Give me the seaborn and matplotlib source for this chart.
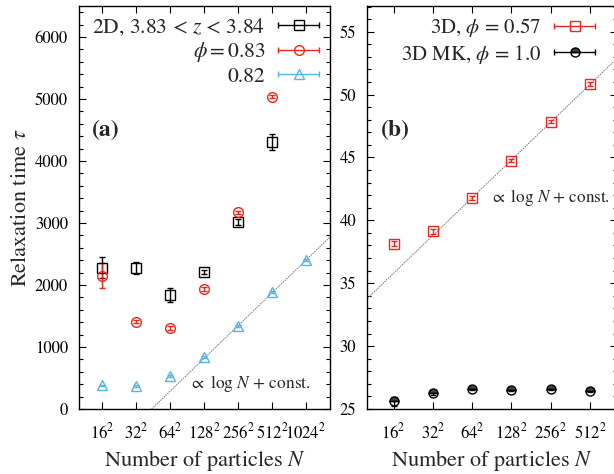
import numpy as np
import pandas as pd
import seaborn as sns
import matplotlib
matplotlib.use("Agg")
import matplotlib.pyplot as plt
from matplotlib.lines import Line2D
from matplotlib.legend_handler import HandlerBase
from matplotlib.ticker import MultipleLocator

# ---------------- data ----------------
# panel (a): 2D systems, linear size L (N = L^2)
L_a = [16, 32, 64, 128, 256, 512, 1024]
tick_labels_a = [r"$16^2$", r"$32^2$", r"$64^2$", r"$128^2$", r"$256^2$", r"$512^2$", r"$1024^2$"]

L_z = [16, 32, 64, 128, 256, 512]
tau_z = [2280, 2270, 1840, 2210, 3020, 4310]
err_z = [170, 100, 110, 40, 50, 130]

L_083 = [16, 32, 64, 128, 256, 512]
tau_083 = [2150, 1410, 1310, 1935, 3170, 5040]
err_083 = [200, 30, 30, 30, 30, 30]

L_082 = [16, 32, 64, 128, 256, 512, 1024]
tau_082 = [380, 370, 530, 845, 1340, 1885, 2405]
err_082 = [15, 15, 15, 15, 15, 15, 15]

fit_a_slope = 529.0      # per doubling of L
fit_a_zero = 5.46        # log2(L) where fit crosses 0

# panel (b): 3D systems
L_b = [16, 32, 64, 128, 256, 512]
tick_labels_b = [r"$16^2$", r"$32^2$", r"$64^2$", r"$128^2$", r"$256^2$", r"$512^2$"]
tau_3d = [38.15, 39.15, 41.75, 44.75, 47.85, 50.85]
err_3d = [0.2, 0.2, 0.15, 0.15, 0.15, 0.15]
tau_mk = [25.6, 26.25, 26.6, 26.5, 26.6, 26.45]
err_mk = [0.35, 0.12, 0.1, 0.1, 0.1, 0.1]

fit_b_slope = 3.0        # per doubling of L
fit_b_ref = 50.8         # value at L = 512

# ---------------- style ----------------
sns.set_theme(style="ticks")
plt.rcParams["font.family"] = ["STIXGeneral", "DejaVu Serif"]
plt.rcParams["mathtext.fontset"] = "stix"
plt.rcParams["axes.linewidth"] = 1.0

RED = "#e8281f"
BLUE = "#56b4e9"
BLACK = "#000000"
GRAY = "0.45"

fig = plt.figure(figsize=(6.14, 4.74), dpi=100)
W, H = 614, 474
ax_a = fig.add_axes([79 / W, 1 - 409 / H, (330 - 79) / W, (409 - 6) / H])
ax_b = fig.add_axes([367 / W, 1 - 409 / H, (617 - 367) / W, (409 - 6) / H])


class CapHandler(HandlerBase):
    def create_artists(self, legend, orig_handle, xdescent, ydescent,
                       width, height, fontsize, trans):
        c = orig_handle.get_color()
        y = height / 2 - ydescent
        x0, x1 = -xdescent, width - xdescent
        line = Line2D([x0, x1], [y, y], color=c, lw=1.0)
        caps = Line2D([x0, x1], [y, y], ls="none", marker="|", color=c,
                      markersize=5, markeredgewidth=1.0)
        mk = Line2D([(x0 + x1) / 2], [y], ls="none",
                    marker=orig_handle.get_marker(),
                    markerfacecolor=orig_handle.get_markerfacecolor(),
                    markeredgecolor=orig_handle.get_markeredgecolor(),
                    fillstyle=orig_handle.get_fillstyle(),
                    markersize=orig_handle.get_markersize(),
                    markeredgewidth=1.0)
        for a in (line, caps, mk):
            a.set_transform(trans)
        return [line, caps, mk]


def draw_series(ax, L, tau, err, color, marker, size, mfc="none", fillstyle="full"):
    df = pd.DataFrame({"x": np.log2(L), "tau": tau})
    ax.errorbar(df["x"], df["tau"], yerr=err, fmt="none", ecolor=color,
                elinewidth=1.0, capsize=2, capthick=1.0, zorder=3)
    ax.plot(df["x"], df["tau"], ls="none", marker=marker, markersize=size,
            markerfacecolor=mfc, markeredgecolor=color, markeredgewidth=1.0,
            fillstyle=fillstyle, zorder=4)
    return Line2D([], [], color=color, marker=marker, markersize=size,
                  markerfacecolor=mfc, markeredgecolor=color, fillstyle=fillstyle)


# ---------------- panel (a) ----------------
h1 = draw_series(ax_a, L_z, tau_z, err_z, BLACK, "s", 7)
h2 = draw_series(ax_a, L_083, tau_083, err_083, RED, "o", 7)
h3 = draw_series(ax_a, L_082, tau_082, err_082, BLUE, "^", 7)

xa0, xa1 = 3.324, 10.706
xf = np.array([fit_a_zero, xa1])
sns.lineplot(x=xf, y=fit_a_slope * (xf - fit_a_zero), ax=ax_a, color=GRAY,
             lw=0.7, ls=(0, (1.5, 1.0)), zorder=2)

ax_a.set_xlim(xa0, xa1)
ax_a.set_ylim(0, 6500)
ax_a.set_xticks(np.log2(L_a))
ax_a.set_xticklabels(tick_labels_a)
ax_a.yaxis.set_major_locator(MultipleLocator(1000))
ax_a.yaxis.set_minor_locator(MultipleLocator(200))
ax_a.set_ylabel(r"Relaxation time $\tau$", fontsize=16, labelpad=3)
ax_a.set_xlabel(r"Number of particles $N$", fontsize=16, labelpad=4)

leg_a = ax_a.legend([h1, h2, h3],
                    [r"2D, 3.83 < $z$ < 3.84", r"$\phi = 0.83$", "0.82"],
                    handler_map={Line2D: CapHandler()}, loc="upper right",
                    markerfirst=False, frameon=False, fontsize=15.5,
                    handlelength=1.9, handletextpad=0.6, labelspacing=0.12,
                    borderaxespad=0.2, borderpad=0.3)
leg_a._legend_box.align = "right"

ax_a.text(0.108, 0.692, "(a)", transform=ax_a.transAxes, fontsize=17,
          fontweight="bold", ha="center", va="center")
ax_a.text(0.44, 0.064, r"$\propto$ log $N$ + const.", transform=ax_a.transAxes,
          fontsize=12.5, ha="left", va="center")

# ---------------- panel (b) ----------------
g1 = draw_series(ax_b, L_b, tau_3d, err_3d, RED, "s", 7)
g2 = draw_series(ax_b, L_b, tau_mk, err_mk, BLACK, "o", 6.5, mfc="0.25", fillstyle="top")

xb0, xb1 = 3.32, 9.69
xg = np.array([xb0, xb1])
sns.lineplot(x=xg, y=fit_b_ref + fit_b_slope * (xg - np.log2(512)), ax=ax_b,
             color=GRAY, lw=0.7, ls=(0, (1.5, 1.0)), zorder=2)

ax_b.set_xlim(xb0, xb1)
ax_b.set_ylim(25, 57.04)
ax_b.set_xticks(np.log2(L_b))
ax_b.set_xticklabels(tick_labels_b)
ax_b.yaxis.set_major_locator(MultipleLocator(5))
ax_b.yaxis.set_minor_locator(MultipleLocator(1))
ax_b.set_xlabel(r"Number of particles $N$", fontsize=16, labelpad=4)
ax_b.set_ylabel("")

leg_b = ax_b.legend([g1, g2],
                    [r"3D, $\phi$ = 0.57", r"3D MK, $\phi$ = 1.0"],
                    handler_map={Line2D: CapHandler()}, loc="upper right",
                    bbox_to_anchor=(0.955, 1.0),
                    markerfirst=False, frameon=False, fontsize=15,
                    handlelength=2.0, handletextpad=0.6, labelspacing=0.15,
                    borderaxespad=0.2, borderpad=0.3)
leg_b._legend_box.align = "right"

ax_b.text(0.112, 0.692, "(b)", transform=ax_b.transAxes, fontsize=17,
          fontweight="bold", ha="center", va="center")
ax_b.text(0.494, 0.526, r"$\propto$ log $N$ + const.", transform=ax_b.transAxes,
          fontsize=12.3, ha="left", va="center")

for ax in (ax_a, ax_b):
    ax.tick_params(which="both", direction="in", top=True, right=True,
                   labelsize=12, colors="black")
    ax.tick_params(which="major", length=5, width=0.8)
    ax.tick_params(which="minor", length=3, width=0.8)
    ax.tick_params(axis="x", which="major", pad=10)
    ax.tick_params(axis="y", which="major", pad=8)
    ax.tick_params(axis="x", which="minor", bottom=False, top=False)
    for s in ax.spines.values():
        s.set_visible(True)
        s.set_color("black")
    ax.grid(False)
    ax.set_facecolor("white")

fig.savefig("out.png", dpi=100, facecolor="white")
